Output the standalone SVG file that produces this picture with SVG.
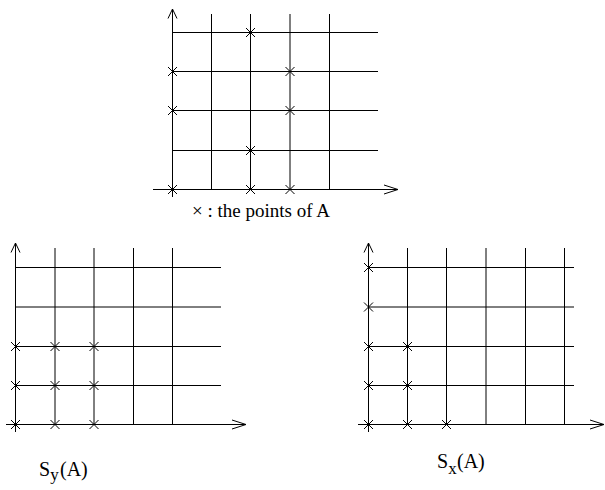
<svg xmlns="http://www.w3.org/2000/svg" width="605" height="490" viewBox="0 0 605 490">
<defs>
<style>
.ln{stroke:#000;stroke-width:1;fill:none}
.t{font-family:"Liberation Serif","Times New Roman",serif;fill:#000}
</style>
<path id="x" d="M-4.5,-4.5L4.5,4.5M-4.5,4.5L4.5,-4.5" class="ln" stroke-width="1.2"/>
</defs>
<rect width="605" height="490" fill="#fff"/>
<g id="plotA">
<g id="gridA" class="ln">
<path d="M172.5,9V197M153,189.5H398M168,18.5L172.5,9L177,18.5M384,185L398,189.5L384,194"/>
<path d="M172.5,32.5H378M172.5,71.5H378M172.5,110.5H378M172.5,150.5H378"/>
<path d="M211.5,14V189.5M250.5,14V189.5M290,14V189.5M329.5,14V189.5"/>
</g>
<g id="pointsA">
<use href="#x" x="172.5" y="71.5"/><use href="#x" x="172.5" y="110.5"/><use href="#x" x="172.5" y="189.5"/>
<use href="#x" x="250.5" y="32.5"/><use href="#x" x="250.5" y="150.5"/><use href="#x" x="250.5" y="189.5"/>
<use href="#x" x="290" y="71.5"/><use href="#x" x="290" y="110.5"/><use href="#x" x="290" y="189.5"/>
</g>
</g>
<g id="legend"><text class="t" x="192" y="217" font-size="19">× : the points of A</text></g>
<g id="plotSy">
<g class="ln">
<path d="M15.5,243V432M6,424.5H246M11,252.5L15.5,243L20,252.5M232,420L246,424.5L232,429"/>
<path d="M15.5,267.5H221M15.5,307H221M15.5,346.5H221M15.5,385.5H221"/>
<path d="M55,248V424.5M94,248V424.5M133.5,248V424.5M172.5,248V424.5"/>
</g>
<g>
<use href="#x" x="15.5" y="346.5"/><use href="#x" x="55" y="346.5"/><use href="#x" x="94" y="346.5"/>
<use href="#x" x="15.5" y="385.5"/><use href="#x" x="55" y="385.5"/><use href="#x" x="94" y="385.5"/>
<use href="#x" x="15.5" y="424.5"/><use href="#x" x="55" y="424.5"/><use href="#x" x="94" y="424.5"/>
</g>
<text class="t" x="39" y="476" font-size="20">S<tspan font-size="17" dy="4">y</tspan><tspan x="60" dy="-4">(A)</tspan></text>
</g>
<g id="plotSx">
<g class="ln">
<path d="M368.5,243V432M358,424.5H604M364,252.5L368.5,243L373,252.5M590,420L604,424.5L590,429"/>
<path d="M368.5,267.5H574M368.5,307H574M368.5,346.5H574M368.5,385.5H574"/>
<path d="M407.5,248V424.5M446.5,248V424.5M486,248V424.5M525.5,248V424.5M564.5,248V424.5"/>
</g>
<g>
<use href="#x" x="368.5" y="267.5"/><use href="#x" x="368.5" y="307"/><use href="#x" x="368.5" y="346.5"/>
<use href="#x" x="368.5" y="385.5"/><use href="#x" x="368.5" y="424.5"/>
<use href="#x" x="407.5" y="346.5"/><use href="#x" x="407.5" y="385.5"/><use href="#x" x="407.5" y="424.5"/>
<use href="#x" x="446.5" y="424.5"/>
</g>
<text class="t" x="437" y="468" font-size="20">S<tspan font-size="17" dy="6">x</tspan><tspan x="457" dy="-6">(A)</tspan></text>
</g>
</svg>
